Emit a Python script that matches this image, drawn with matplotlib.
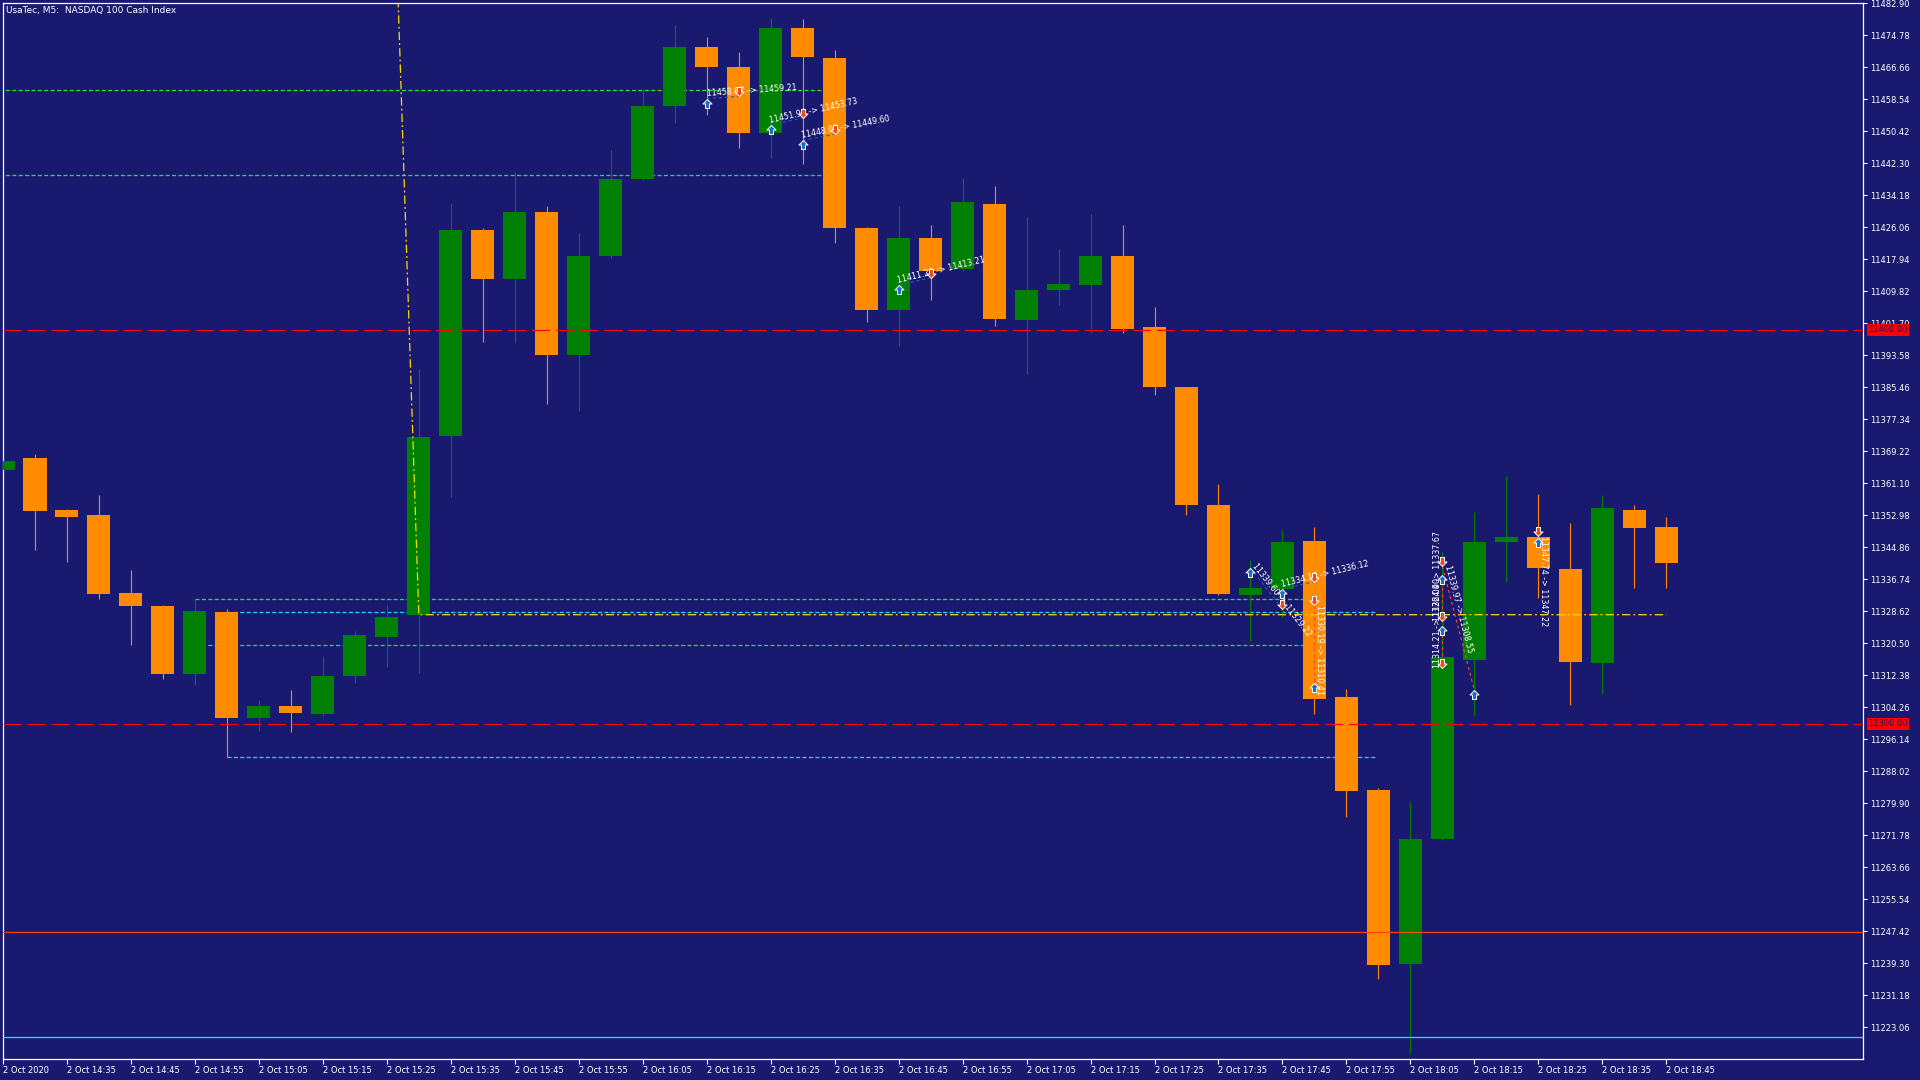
import math
import numpy as np
import matplotlib
matplotlib.use("Agg")
import matplotlib.pyplot as plt
from matplotlib.path import Path
from matplotlib.markers import MarkerStyle

plt.rcParams['font.family'] = ['DejaVu Sans']
plt.rcParams['lines.scale_dashes'] = False

# ---------------- data ----------------
times = ["14:25", "14:30", "14:35", "14:40", "14:45", "14:50", "14:55", "15:00", "15:05", "15:10",
         "15:15", "15:20", "15:25", "15:30", "15:35", "15:40", "15:45", "15:50", "15:55", "16:00",
         "16:05", "16:10", "16:15", "16:20", "16:25", "16:30", "16:35", "16:40", "16:45", "16:50",
         "16:55", "17:00", "17:05", "17:10", "17:15", "17:20", "17:25", "17:30", "17:35", "17:40",
         "17:45", "17:50", "17:55", "18:00", "18:05", "18:10", "18:15", "18:20", "18:25", "18:30",
         "18:35", "18:40", "18:45"]

opens = [11364.3, 11367.4, 11354.2, 11352.9, 11333.2, 11329.9, 11312.6, 11328.3, 11301.4, 11304.5,
         11302.5, 11312.1, 11322.0, 11327.6, 11373.0, 11425.4, 11413.0, 11429.8, 11393.5, 11418.6,
         11438.2, 11456.8, 11471.7, 11466.8, 11449.9, 11476.7, 11469.0, 11425.8, 11405.0, 11423.2,
         11415.3, 11431.8, 11402.5, 11410.2, 11411.3, 11418.6, 11400.6, 11385.4, 11355.6, 11332.6,
         11334.2, 11346.3, 11306.8, 11283.2, 11239.1, 11270.8, 11316.1, 11346.1, 11347.4, 11339.2,
         11315.5, 11354.3, 11350.0]
highs = [11367.5, 11368.4, 11354.5, 11358.0, 11339.0, 11330.1, 11331.8, 11329.1, 11306.0, 11308.5,
         11317.2, 11323.5, 11330.1, 11390.1, 11432.1, 11425.8, 11440.1, 11431.4, 11424.5, 11445.7,
         11461.2, 11477.3, 11474.2, 11470.5, 11479.2, 11478.9, 11471.1, 11426.0, 11431.5, 11426.7,
         11438.5, 11436.4, 11428.5, 11420.6, 11429.3, 11426.7, 11405.9, 11385.6, 11360.9, 11341.5,
         11349.1, 11350.0, 11308.8, 11283.8, 11280.1, 11343.5, 11353.7, 11363.0, 11358.4, 11350.9,
         11358.1, 11355.6, 11352.5]
lows = [11363.5, 11344.1, 11341.1, 11331.6, 11320.0, 11311.3, 11309.8, 11291.6, 11298.1, 11297.9,
        11302.0, 11310.3, 11314.4, 11312.9, 11357.5, 11396.9, 11396.6, 11381.1, 11379.5, 11418.3,
        11437.9, 11452.5, 11454.4, 11446.1, 11443.5, 11442.0, 11422.0, 11401.9, 11396.0, 11407.5,
        11415.0, 11400.9, 11388.8, 11406.2, 11399.2, 11399.1, 11383.5, 11353.1, 11332.7, 11321.0,
        11327.1, 11302.5, 11276.4, 11235.3, 11216.5, 11270.5, 11302.0, 11336.0, 11332.0, 11304.7,
        11307.5, 11334.5, 11334.5]
closes = [11366.6, 11353.9, 11352.4, 11332.9, 11329.9, 11312.6, 11328.6, 11301.4, 11304.5, 11302.7,
          11312.1, 11322.5, 11327.1, 11372.7, 11425.4, 11412.9, 11429.8, 11393.5, 11418.6, 11438.2,
          11456.8, 11471.7, 11466.8, 11449.9, 11476.7, 11469.3, 11425.8, 11405.0, 11423.4, 11414.8,
          11432.3, 11402.7, 11410.2, 11411.5, 11418.6, 11400.2, 11385.4, 11355.6, 11332.9, 11334.4,
          11346.1, 11306.3, 11282.9, 11238.8, 11270.8, 11316.9, 11346.1, 11347.4, 11339.6, 11315.7,
          11354.7, 11349.7, 11340.7]

first_date_label = "2 Oct 2020"
date_prefix = "2 Oct "

ytick_values = [11482.90, 11474.78, 11466.66, 11458.54, 11450.42, 11442.30, 11434.18, 11426.06,
                11417.94, 11409.82, 11401.70, 11393.58, 11385.46, 11377.34, 11369.22, 11361.10,
                11352.98, 11344.86, 11336.74, 11328.62, 11320.50, 11312.38, 11304.26, 11296.14,
                11288.02, 11279.90, 11271.78, 11263.66, 11255.54, 11247.42, 11239.30, 11231.18,
                11223.06]

# horizontal objects (price level, start candle, end candle)
green_levels = [11460.9, 11439.3, 11331.8, 11320.1]
green_start = [-1, -1, 6, 6]
green_end = [26, 26, 41, 41]
cyan_levels = [11328.3, 11291.7]
cyan_start = [7, 7]
cyan_end = [42.9, 42.9]
red_levels = [11400.0, 11300.0]
orangered_level = 11247.1
cyan_solid_level = 11220.5
yellow_x = [12.35, 13.0, 52.0]
yellow_y = [11484.0, 11327.7, 11327.7]

# trades
trade_entry_idx = [22, 24, 25, 28, 39, 40, 41, 45, 45, 45, 48]
trade_entry_price = [11458.67, 11451.94, 11448.03, 11411.26, 11339.60, 11334.16, 11330.19,
                     11314.21, 11326.04, 11339.97, 11347.74]
trade_exit_idx = [23, 25, 26, 29, 40, 41, 41, 45, 45, 46, 48]
trade_exit_price = [11459.21, 11453.73, 11449.60, 11413.21, 11329.22, 11336.12, 11310.41,
                    11324.90, 11337.67, 11308.55, 11347.22]
trade_side = ["buy", "buy", "buy", "buy", "buy", "buy", "sell", "sell", "sell", "sell", "sell"]

# ---------------- style ----------------
BG = "#191970"
GREEN = "#008000"
ORANGE = "#FF8C00"
GREEN_D = "#1EEB1E"
CYAN_D = "#22D8FF"
YELLOW = "#FFD700"
BUY = "#1C6BC4"
SELL = "#EE4A1E"
BUY_LINE = "#1F5FC0"
SELL_LINE = "#FF4A1A"

fig = plt.figure(figsize=(19.2, 10.8), dpi=100, facecolor=BG)
ax = fig.add_axes([3 / 1920, 1 - 1059 / 1080, 1860 / 1920, 1056 / 1080], facecolor=BG)
ax.set_xlim(0.022, 58.15)
ax.set_ylim(11214.96, 11482.92)

x = np.arange(len(times))
o = np.array(opens); h = np.array(highs); l = np.array(lows); c = np.array(closes)
colors = np.where(c >= o, GREEN, ORANGE)

# background objects
for lvl, x0, x1 in zip(green_levels, green_start, green_end):
    ax.plot([x0, x1], [lvl, lvl], color=GREEN_D, lw=0.9, dashes=(2.9, 1.7), zorder=1)
for lvl, x0, x1 in zip(cyan_levels, cyan_start, cyan_end):
    ax.plot([x0, x1], [lvl, lvl], color=CYAN_D, lw=0.9, dashes=(2.9, 1.7), zorder=1)

# candles
ax.vlines(x, l, h, colors=colors, lw=0.8, zorder=2)
ax.bar(x, np.maximum(np.abs(c - o), 0.25), bottom=np.minimum(o, c), width=0.72,
       color=colors, lw=0, zorder=3)

# level lines on top
for lvl in red_levels:
    ax.axhline(lvl, color="#FF0000", lw=0.9, dashes=(13, 4.3), zorder=4)
ax.axhline(orangered_level, color="#FF4500", lw=0.9, zorder=4)
ax.axhline(cyan_solid_level, color="#33D6FF", lw=0.9, zorder=4)
ax.plot(yellow_x, yellow_y, color=YELLOW, lw=0.9, dashes=(6, 2.2, 1.4, 2.2), zorder=5)

# trade arrows
up_verts = [(0, 0), (1, -1), (0.45, -1), (0.45, -2), (-0.45, -2), (-0.45, -1), (-1, -1), (0, 0)]
codes = [Path.MOVETO] + [Path.LINETO] * 6 + [Path.CLOSEPOLY]
up_marker = MarkerStyle(Path(up_verts, codes))
down_marker = MarkerStyle(Path([(vx, -vy) for vx, vy in up_verts], codes))

for ei, ep, xi, xp, side in zip(trade_entry_idx, trade_entry_price, trade_exit_idx,
                                trade_exit_price, trade_side):
    is_buy = side == "buy"
    lcol = BUY_LINE if is_buy else SELL_LINE
    ax.plot([ei, xi], [ep, xp], color=lcol, lw=0.8, dashes=(2.2, 2.2), zorder=6)
    p0 = ax.transData.transform((ei, ep))
    p1 = ax.transData.transform((xi, xp))
    ang = math.degrees(math.atan2(p1[1] - p0[1], p1[0] - p0[0]))
    lbl = f"{ep:.2f} -> {xp:.2f}"
    ax.annotate(lbl, xy=(ei, ep), xytext=(-0.4 * math.sin(math.radians(ang)),
                                            0.4 * math.cos(math.radians(ang))),
                textcoords="offset points", rotation=ang, rotation_mode="anchor",
                ha="left", va="bottom", fontsize=5.8, color="white", zorder=8)
    if is_buy:
        ax.plot([ei], [ep], marker=up_marker, ms=13, mfc=BUY, mec="white", mew=0.7, ls="none", zorder=9)
        ax.plot([xi], [xp], marker=down_marker, ms=13, mfc=SELL, mec="white", mew=0.7, ls="none", zorder=9)
    else:
        ax.plot([ei], [ep], marker=down_marker, ms=13, mfc=SELL, mec="white", mew=0.7, ls="none", zorder=9)
        ax.plot([xi], [xp], marker=up_marker, ms=13, mfc=BUY, mec="white", mew=0.7, ls="none", zorder=9)

# axes styling
for s in ax.spines.values():
    s.set_color("white")
    s.set_linewidth(0.9)

ax.yaxis.tick_right()
ax.set_yticks(ytick_values)
ax.set_yticklabels([f"{v:.2f}" for v in ytick_values])
ax.tick_params(axis="y", colors="white", labelcolor="white", direction="out",
               length=3, width=0.8, pad=2, labelsize=6)

xtick_pos = list(range(0, len(times), 2))
xtick_labels = [first_date_label] + [date_prefix + times[k] for k in xtick_pos[1:]]
ax.set_xticks(xtick_pos)
ax.set_xticklabels(xtick_labels, ha="left")
ax.tick_params(axis="x", colors="white", labelcolor="white", direction="out",
               length=3.5, width=0.8, pad=1.5, labelsize=6)

# red price labels on right axis
for lvl in red_levels:
    ax.annotate(f"{lvl:.2f}", xy=(1.0, lvl), xycoords=("axes fraction", "data"),
                xytext=(3.8, 0), textcoords="offset points", ha="left", va="center",
                fontsize=6, color="#14146E", zorder=10, annotation_clip=False,
                bbox=dict(boxstyle="square,pad=0.18", fc="#FF0000", ec="none"))

fig.text(6 / 1920, 1 - 10 / 1080, "UsaTec, M5:  NASDAQ 100 Cash Index", color="white",
         fontsize=6.5, ha="left", va="center")

fig.savefig("out.png", dpi=100, facecolor=BG)
